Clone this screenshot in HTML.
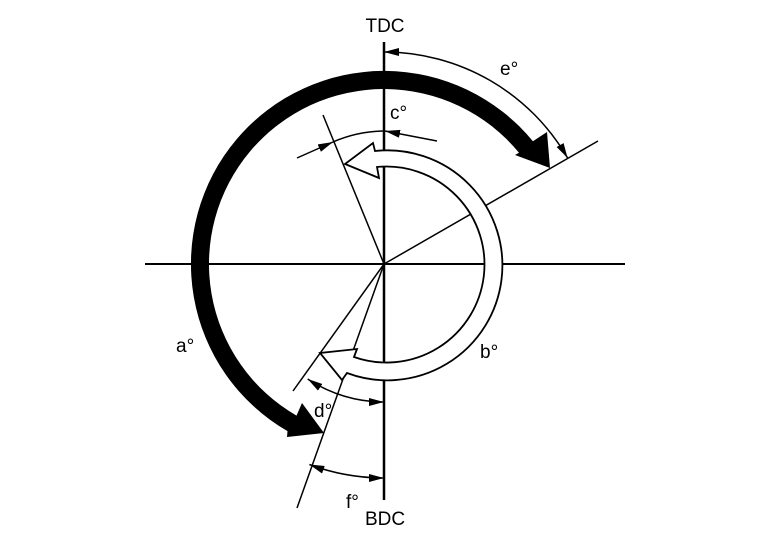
<!DOCTYPE html>
<html><head><meta charset="utf-8"><style>
html,body{margin:0;padding:0;background:#fff;}
svg{display:block;}
text{font-family:"Liberation Sans",sans-serif;font-size:19px;fill:#000;}
</style></head><body>
<svg width="768" height="544" viewBox="0 0 768 544" xmlns="http://www.w3.org/2000/svg">
<defs>
<marker id="ah" markerUnits="userSpaceOnUse" markerWidth="16" markerHeight="10" refX="15" refY="4" orient="auto-start-reverse">
<path d="M0,0 L15,4 L0,8 Z" fill="#000"/>
</marker>
</defs>
<g stroke="#000" fill="none">
<line x1="384" y1="42" x2="384" y2="500" stroke-width="2.5"/>
<line x1="145" y1="264" x2="625" y2="264" stroke-width="2"/>
<line x1="384" y1="264" x2="598" y2="141" stroke-width="1.5"/>
<line x1="384" y1="264" x2="323" y2="115" stroke-width="1.5"/>
<line x1="384" y1="264" x2="293" y2="391" stroke-width="1.5"/>
<line x1="384" y1="264" x2="297" y2="508" stroke-width="1.5"/>
</g>
<!-- white band -->
<path d="M375,151 A115 115 0 1 1 347,373 L342,380 L320,353 L357,349 L354,357 A98 98 0 1 0 377,167 L379,178 L345,164 L373,143 Z" fill="#fff" stroke="#000" stroke-width="1.8"/>
<!-- black band -->
<path d="M296.5,415.6 L302,403 L324,433 L287,437 L287.5,431.1 A193 193 0 1 1 532.9,141.2 L547,132 L550,168 L515,155 L519,152.7 A175 175 0 1 0 296.5,415.6 Z" fill="#000"/>
<g stroke="#000" stroke-width="1.5" fill="none">
<!-- e -->
<path d="M384,52 A212 212 0 0 1 567.6,158" marker-start="url(#ah)" marker-end="url(#ah)"/>
<!-- c -->
<line x1="297" y1="158" x2="333" y2="142" marker-end="url(#ah)"/>
<path d="M333,142 A133 133 0 0 1 384,131"/>
<line x1="437" y1="141" x2="385" y2="131" marker-end="url(#ah)"/>
<!-- d -->
<path d="M307.7,379 A138 138 0 0 0 384,402" marker-start="url(#ah)" marker-end="url(#ah)"/>
<!-- f -->
<path d="M309.4,464.5 A214 214 0 0 0 384,478" marker-start="url(#ah)" marker-end="url(#ah)"/>
</g>
<text x="385" y="32" text-anchor="middle">TDC</text>
<text x="385" y="525" text-anchor="middle">BDC</text>
<text x="176" y="352">a°</text>
<text x="480" y="358">b°</text>
<text x="390" y="119">c°</text>
<text x="314" y="417">d°</text>
<text x="500" y="75">e°</text>
<text x="346" y="508">f°</text>
</svg>
</body></html>
